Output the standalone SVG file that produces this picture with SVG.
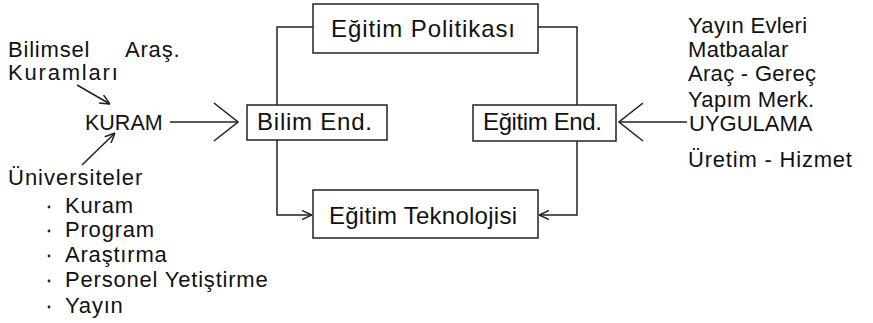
<svg xmlns="http://www.w3.org/2000/svg" width="873" height="323" viewBox="0 0 873 323">
<style>
  text { font-family: "Liberation Sans", Arial, sans-serif; font-size: 24px; fill: #111; }
  .s { font-size: 22px; letter-spacing: 0.8px; }
  .box { fill: #fff; stroke: #222; stroke-width: 1.5; }
  .ln { fill: none; stroke: #222; stroke-width: 1.5; }
  .dot { fill: #222; }
</style>
<defs>
  <marker id="arr" viewBox="0 0 10 10" refX="10" refY="5" markerWidth="10" markerHeight="10" markerUnits="userSpaceOnUse" orient="auto">
    <path d="M0,0.5 L10,5 L0,9.5" fill="none" stroke="#222" stroke-width="1.5"/>
  </marker>
  <marker id="big" viewBox="0 0 26 40" refX="25" refY="20" markerWidth="26" markerHeight="40" markerUnits="userSpaceOnUse" orient="auto">
    <path d="M1,1 L25,20 L1,39" fill="none" stroke="#222" stroke-width="1.5"/>
  </marker>
</defs>
<rect width="873" height="323" fill="#fff"/>
<g id="connectors">
  <line class="ln" x1="170" y1="122" x2="238" y2="122" marker-end="url(#big)"/>
  <line class="ln" x1="687" y1="122" x2="619" y2="122" marker-end="url(#big)"/>
  <line class="ln" x1="77" y1="85" x2="110" y2="104" marker-end="url(#arr)"/>
  <line class="ln" x1="82" y1="165" x2="115" y2="133" marker-end="url(#arr)"/>
  <path class="ln" d="M313,27 H277 V105"/>
  <path class="ln" d="M538,27 H577 V105"/>
  <path class="ln" d="M277,140 V215 H312" marker-end="url(#arr)"/>
  <path class="ln" d="M577,141 V215 H539" marker-end="url(#arr)"/>
</g>
<g id="kuram">
  <text class="s" x="8" y="57">Bilimsel</text>
  <text class="s" x="125" y="57">Araş.</text>
  <text class="s" x="8" y="80" style="letter-spacing:1.8px">Kuramları</text>
  <text x="85" y="130" style="font-size:21.5px">KURAM</text>
</g>
<g id="universiteler">
  <text class="s" x="8" y="185" style="letter-spacing:1px">Üniversiteler</text>
  <circle class="dot" cx="49" cy="207" r="1.4"/><text class="s" x="65" y="213">Kuram</text>
  <circle class="dot" cx="49" cy="231" r="1.4"/><text class="s" x="65" y="237">Program</text>
  <circle class="dot" cx="49" cy="256" r="1.4"/><text class="s" x="65" y="262">Araştırma</text>
  <circle class="dot" cx="49" cy="281" r="1.4"/><text class="s" x="65" y="287">Personel Yetiştirme</text>
  <circle class="dot" cx="49" cy="307" r="1.4"/><text class="s" x="65" y="313">Yayın</text>
</g>
<g id="egitim-politikasi">
  <rect class="box" x="313" y="4" width="225" height="49"/>
  <text x="331" y="37" textLength="184">Eğitim Politikası</text>
</g>
<g id="bilim-end">
  <rect class="box" x="247" y="105" width="140" height="35"/>
  <text x="257" y="130" textLength="115">Bilim End.</text>
</g>
<g id="egitim-end">
  <rect class="box" x="473" y="105" width="143" height="36"/>
  <text x="483" y="130" textLength="119">Eğitim End.</text>
</g>
<g id="egitim-teknolojisi">
  <rect class="box" x="313" y="190" width="225" height="48"/>
  <text x="329" y="224" textLength="188">Eğitim Teknolojisi</text>
</g>
<g id="uygulama">
  <text class="s" x="688" y="33" style="letter-spacing:0.3px">Yayın Evleri</text>
  <text class="s" x="688" y="57" style="letter-spacing:0.3px">Matbaalar</text>
  <text class="s" x="688" y="81" style="letter-spacing:0.3px">Araç - Gereç</text>
  <text class="s" x="688" y="107" style="letter-spacing:0.3px">Yapım Merk.</text>
  <text class="s" x="689" y="131" style="letter-spacing:0px">UYGULAMA</text>
  <text class="s" x="688" y="167">Üretim - Hizmet</text>
</g>
</svg>
